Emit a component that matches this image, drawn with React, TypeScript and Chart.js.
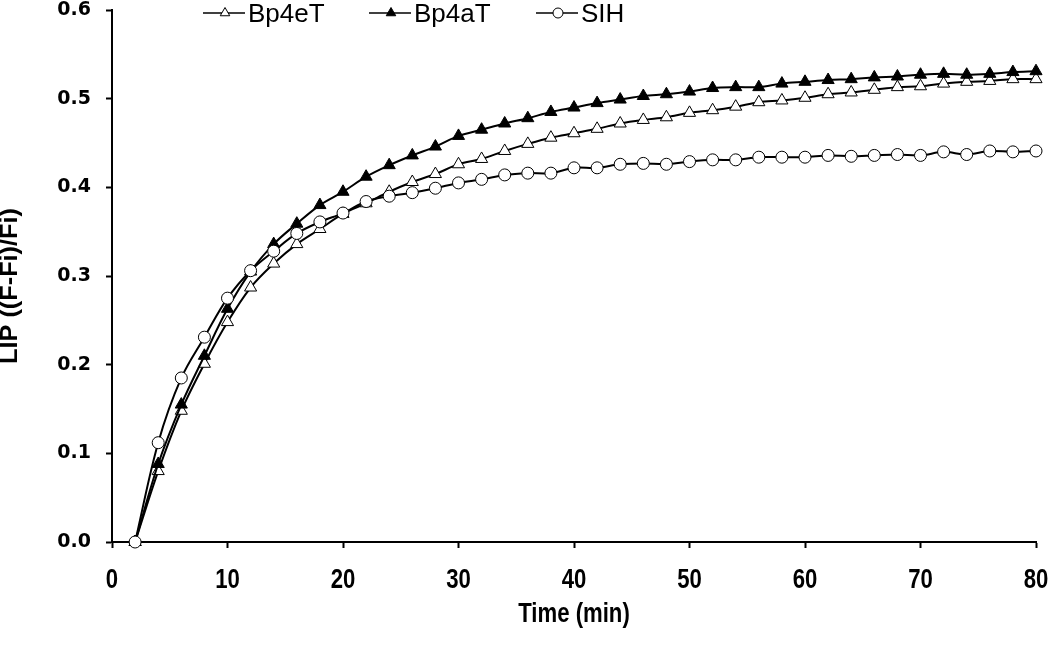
import { useEffect, useRef } from 'react';
import { Chart, registerables } from 'chart.js';

Chart.register(...registerables);

const timeMin = [2, 4, 6, 8, 10, 12, 14, 16, 18, 20, 22, 24, 26, 28, 30, 32, 34, 36, 38, 40,
  42, 44, 46, 48, 50, 52, 54, 56, 58, 60, 62, 64, 66, 68, 70, 72, 74, 76, 78, 80];

const bp4eT = [0, 0.080, 0.148, 0.201, 0.248, 0.287, 0.314, 0.336, 0.353, 0.370,
  0.382, 0.395, 0.406, 0.415, 0.426, 0.432, 0.441, 0.449, 0.456, 0.461,
  0.466, 0.472, 0.476, 0.479, 0.484, 0.487, 0.491, 0.496, 0.498, 0.501,
  0.505, 0.507, 0.510, 0.513, 0.514, 0.517, 0.519, 0.520, 0.522, 0.522];

const bp4aT = [0, 0.088, 0.155, 0.210, 0.263, 0.305, 0.336, 0.359, 0.380, 0.395,
  0.412, 0.425, 0.436, 0.446, 0.458, 0.465, 0.472, 0.478, 0.485, 0.490,
  0.495, 0.499, 0.503, 0.505, 0.508, 0.512, 0.513, 0.513, 0.517, 0.519,
  0.521, 0.522, 0.524, 0.525, 0.527, 0.528, 0.527, 0.528, 0.530, 0.531];

const sih = [0, 0.112, 0.185, 0.231, 0.275, 0.306, 0.328, 0.348, 0.361, 0.371,
  0.384, 0.390, 0.394, 0.399, 0.405, 0.409, 0.414, 0.416, 0.416, 0.422,
  0.422, 0.426, 0.427, 0.426, 0.429, 0.431, 0.431, 0.434, 0.434, 0.434,
  0.436, 0.435, 0.436, 0.437, 0.436, 0.440, 0.437, 0.441, 0.440, 0.441];

const seriesNames = ['Bp4eT', 'Bp4aT', 'SIH'];
const xTitle = 'Time (min)';
const yTitle = 'LIP ((F-Fi)/Fi)';

const toPoints = (vals: number[]) => vals.map((v, i) => ({ x: timeMin[i], y: v }));

const legendPlugin = {
  id: 'customLegend',
  afterDraw(chart: any) {
    const ctx = chart.ctx as CanvasRenderingContext2D;
    const items = [
      { label: seriesNames[0], shape: 'triangle', fill: '#ffffff', x: 203 },
      { label: seriesNames[1], shape: 'triangle', fill: '#000000', x: 369 },
      { label: seriesNames[2], shape: 'circle', fill: '#ffffff', x: 536 },
    ];
    const y = 13;
    ctx.save();
    for (const it of items) {
      ctx.strokeStyle = '#000';
      ctx.lineWidth = 1.5;
      ctx.beginPath();
      ctx.moveTo(it.x, y);
      ctx.lineTo(it.x + 42, y);
      ctx.stroke();
      const cx = it.x + 22;
      ctx.fillStyle = it.fill;
      ctx.lineWidth = 1;
      ctx.beginPath();
      if (it.shape === 'triangle') {
        const r = 5.5;
        ctx.moveTo(cx, y - r);
        ctx.lineTo(cx + r * 0.866, y + r * 0.5);
        ctx.lineTo(cx - r * 0.866, y + r * 0.5);
        ctx.closePath();
      } else {
        ctx.arc(cx, y, 5, 0, Math.PI * 2);
      }
      ctx.fill();
      ctx.stroke();
      ctx.fillStyle = '#000';
      ctx.font = "26px 'Liberation Sans', Arial, sans-serif";
      ctx.textBaseline = 'alphabetic';
      ctx.textAlign = 'left';
      ctx.fillText(it.label, it.x + 45, 22);
    }
    ctx.restore();
  },
};

// Axis labels drawn with the reference's stretched / condensed bold faces
const axisTextPlugin = {
  id: 'axisText',
  afterDraw(chart: any) {
    const ctx = chart.ctx as CanvasRenderingContext2D;
    const xs = chart.scales.x;
    const sx = 0.82;
    ctx.save();
    ctx.fillStyle = '#000';
    ctx.font = "bold 27px 'Liberation Sans', Arial, sans-serif";
    ctx.textAlign = 'center';
    ctx.textBaseline = 'alphabetic';
    ctx.scale(sx, 1);
    for (const t of xs.ticks) {
      const px = xs.getPixelForValue(t.value);
      ctx.fillText(String(t.value), px / sx, 588);
    }
    ctx.fillText(xTitle, (chart.chartArea.left + chart.chartArea.right) / 2 / sx, 622);
    ctx.restore();

    ctx.save();
    ctx.fillStyle = '#000';
    ctx.font = "bold 23px 'Liberation Sans', Arial, sans-serif";
    ctx.textAlign = 'center';
    ctx.textBaseline = 'middle';
    ctx.translate(10, 286);
    ctx.rotate(-Math.PI / 2);
    ctx.scale(1.1, 1);
    ctx.fillText(yTitle, 0, 1);
    ctx.restore();
  },
};

export default function App() {
  const ref = useRef<HTMLCanvasElement>(null);

  useEffect(() => {
    if (!ref.current) return;
    const common = {
      borderColor: '#000',
      borderWidth: 2,
      pointBorderColor: '#000',
      pointBorderWidth: 1,
      tension: 0.35,
      clip: false as any,
      fill: false,
    };
    const chart = new Chart(ref.current, {
      type: 'line',
      data: {
        datasets: [
          {
            ...common,
            label: seriesNames[0],
            data: toPoints(bp4eT),
            pointStyle: 'triangle',
            pointRadius: 7,
            pointBackgroundColor: '#fff',
            order: 3,
          },
          {
            ...common,
            label: seriesNames[1],
            data: toPoints(bp4aT),
            pointStyle: 'triangle',
            pointRadius: 7,
            pointBackgroundColor: '#000',
            order: 2,
          },
          {
            ...common,
            label: seriesNames[2],
            data: toPoints(sih),
            pointStyle: 'circle',
            pointRadius: 6,
            pointBackgroundColor: '#fff',
            order: 1,
          },
        ],
      },
      options: {
        animation: false,
        responsive: true,
        maintainAspectRatio: false,
        layout: { padding: { top: 10, right: 14, bottom: 0, left: 0 } },
        plugins: {
          legend: { display: false },
          tooltip: { enabled: false },
        },
        scales: {
          x: {
            type: 'linear',
            min: 0,
            max: 80,
            ticks: {
              stepSize: 10,
              display: false,
            },
            grid: {
              display: true,
              drawOnChartArea: false,
              drawTicks: true,
              tickLength: 6,
              tickWidth: 2,
              tickColor: '#000',
            },
            border: { display: true, color: '#000', width: 2 },
            title: { display: false, text: xTitle },
            afterFit: (s: any) => {
              s.height = 118;
              s.paddingLeft = 0;
              s.paddingRight = 0;
            },
          },
          y: {
            type: 'linear',
            min: 0,
            max: 0.6,
            ticks: {
              stepSize: 0.1,
              color: '#000',
              padding: 15,
              font: { family: "'DejaVu Sans', sans-serif", size: 19, weight: 'bold' },
              callback: (v: any) => Number(v).toFixed(1),
            },
            grid: {
              display: true,
              drawOnChartArea: false,
              drawTicks: true,
              tickLength: 6,
              tickWidth: 2,
              tickColor: '#000',
            },
            border: { display: true, color: '#000', width: 2 },
            title: { display: false, text: yTitle },
            afterFit: (s: any) => {
              s.width = 112;
              s.paddingTop = 0;
              s.paddingBottom = 0;
            },
          },
        },
      },
      plugins: [legendPlugin, axisTextPlugin],
    });
    return () => chart.destroy();
  }, []);

  return (
    <div style={{ position: 'fixed', left: 0, top: 0, width: 1050, height: 660, background: '#fff' }}>
      <canvas ref={ref} />
    </div>
  );
}
